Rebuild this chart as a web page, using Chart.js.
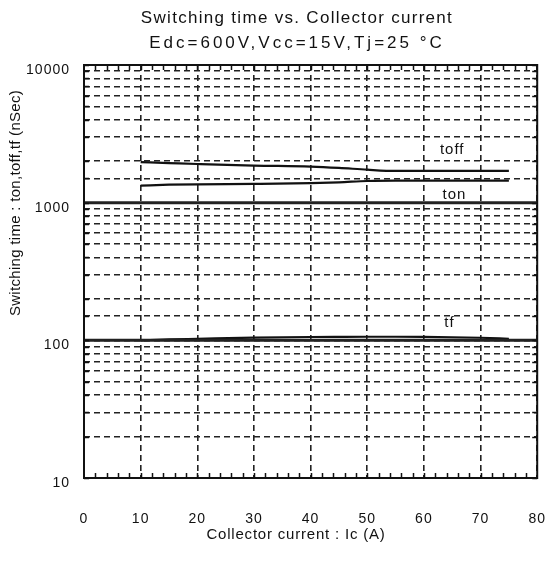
<!DOCTYPE html>
<html>
<head>
<meta charset="utf-8">
<script src="https://cdn.jsdelivr.net/npm/chart.js@4.4.1/dist/chart.umd.min.js"></script>
<style>
  body { margin: 0; background: #fff; }
  canvas { display: block; }
</style>
</head>
<body>
<canvas id="chart_1" width="549" height="561"></canvas>
<script>
// values (Ic in A, times in nSec)
const current_a = [10, 15, 20, 30, 40, 45, 50, 55, 60, 70, 75];
const toff_ns = [1970, 1940, 1910, 1860, 1830, 1790, 1735, 1700, 1700, 1700, 1700];
const ton_ns = [1330, 1350, 1360, 1368, 1385, 1405, 1437, 1445, 1445, 1445, 1445];
const tf_ns = [100, 101.5, 102.5, 104.5, 105.7, 106, 106.2, 106.2, 106, 104.4, 102.7];

const x_ticks = [0, 10, 20, 30, 40, 50, 60, 70, 80];
const y_tick_labels = [10, 100, 1000, 10000];
const ref_lines = [100, 1000];

const curve_names = ["toff", "ton", "tf"];
const curve_label_x = [65, 65.4, 64.5];
const curve_label_y = [2415, 1138, 134];

const title_lines = ["Switching time vs. Collector current", "Edc=600V,Vcc=15V,Tj=25 °C"];
const x_title = "Collector current : Ic (A)";
const y_title = "Switching time : ton,toff,tf (nSec)";

const font_family = '"Liberation Sans", Arial, sans-serif';
const ink = "#111";

function to_points(xs, ys) {
  return xs.map((x, i) => ({x: x, y: ys[i]}));
}

function curve(label, ys) {
  return {
    label: label,
    data: to_points(current_a, ys),
    borderColor: ink,
    borderWidth: 2.2,
    pointRadius: 0,
    cubicInterpolationMode: "monotone",
    fill: false
  };
}

let datasets = ref_lines.map(v => ({
  label: "ref " + v,
  data: [{x: x_ticks[0], y: v}, {x: x_ticks[x_ticks.length - 1], y: v}],
  borderColor: "#222",
  borderWidth: 3,
  pointRadius: 0
}));
datasets.push(curve("toff", toff_ns));
datasets.push(curve("ton", ton_ns));
datasets.push(curve("tf", tf_ns));

const frame_plugin = {
  id: "frame",
  beforeDraw(chart) {
    const ctx = chart.ctx;
    ctx.letterSpacing = "1px";
    ctx.save();
    ctx.fillStyle = "#fff";
    ctx.fillRect(0, 0, chart.width, chart.height);
    ctx.restore();
  },
  afterDraw(chart) {
    const ctx = chart.ctx;
    const a = chart.chartArea;
    const xs = chart.scales.x;
    const ys = chart.scales.y;
    ctx.save();
    ctx.strokeStyle = ink;

    // small ticks along top and bottom, every 2 A
    ctx.lineWidth = 1.5;
    ctx.beginPath();
    for (let v = 2; v < 80; v += 2) {
      const px = Math.round(xs.getPixelForValue(v)) + 0.5;
      ctx.moveTo(px, a.top); ctx.lineTo(px, a.top + 5);
      ctx.moveTo(px, a.bottom); ctx.lineTo(px, a.bottom - 5);
    }
    // short solid stubs on left/right for every y grid line
    ys.ticks.forEach(t => {
      const py = Math.round(ys.getPixelForValue(t.value)) + 0.5;
      ctx.moveTo(a.left, py); ctx.lineTo(a.left + 5, py);
      ctx.moveTo(a.right, py); ctx.lineTo(a.right - 5, py);
    });
    ctx.stroke();

    // frame
    ctx.lineWidth = 2;
    ctx.strokeRect(a.left, a.top, a.right - a.left, a.bottom - a.top);

    // curve labels
    ctx.fillStyle = ink;
    ctx.letterSpacing = "1px";
    ctx.font = "15px " + font_family;
    ctx.textAlign = "center";
    ctx.textBaseline = "middle";
    for (let i = 0; i < curve_names.length; i++) {
      ctx.fillText(curve_names[i], xs.getPixelForValue(curve_label_x[i]), ys.getPixelForValue(curve_label_y[i]));
    }

    // titles
    ctx.font = "17px " + font_family;
    ctx.letterSpacing = "1.3px";
    ctx.fillText(title_lines[0], 297, 18);
    ctx.letterSpacing = "3px";
    ctx.fillText(title_lines[1], 297, 43);

    ctx.font = "15px " + font_family;
    ctx.letterSpacing = "0.8px";
    ctx.fillText(x_title, 296, 535);

    ctx.translate(16, 203);
    ctx.rotate(-Math.PI / 2);
    ctx.letterSpacing = "0.3px";
    ctx.fillText(y_title, 0, 0);
    ctx.restore();
  }
};

Chart.defaults.font.family = font_family;
Chart.defaults.font.size = 14;
Chart.defaults.color = ink;

const ctx = document.getElementById("chart_1").getContext("2d");
const chart = new Chart(ctx, {
  type: "line",
  data: { datasets: datasets },
  options: {
    responsive: false,
    animation: false,
    layout: { padding: { top: 65, right: 11, left: 0, bottom: 0 } },
    plugins: {
      legend: { display: false },
      tooltip: { enabled: false },
      title: { display: false }
    },
    scales: {
      x: {
        type: "linear",
        min: x_ticks[0],
        max: x_ticks[x_ticks.length - 1],
        afterFit: function(scale) { scale.height = 83; },
        ticks: { stepSize: 10, padding: 4, maxRotation: 0 },
        grid: { color: "#222", lineWidth: 1.6, drawTicks: true, tickLength: 29, tickColor: "rgba(0,0,0,0)" },
        border: { display: false, dash: [6, 4] }
      },
      y: {
        type: "logarithmic",
        min: y_tick_labels[0],
        max: y_tick_labels[y_tick_labels.length - 1],
        afterFit: function(scale) { scale.width = 84; },
        ticks: {
          autoSkip: false,
          padding: 14,
          labelOffset: 5,
          callback: function(value) {
            return y_tick_labels.includes(value) ? String(value) : "";
          }
        },
        grid: { color: "#222", lineWidth: 1.6, drawTicks: false },
        border: { display: false, dash: [6, 4] }
      }
    }
  },
  plugins: [frame_plugin]
});
</script>
</body>
</html>
